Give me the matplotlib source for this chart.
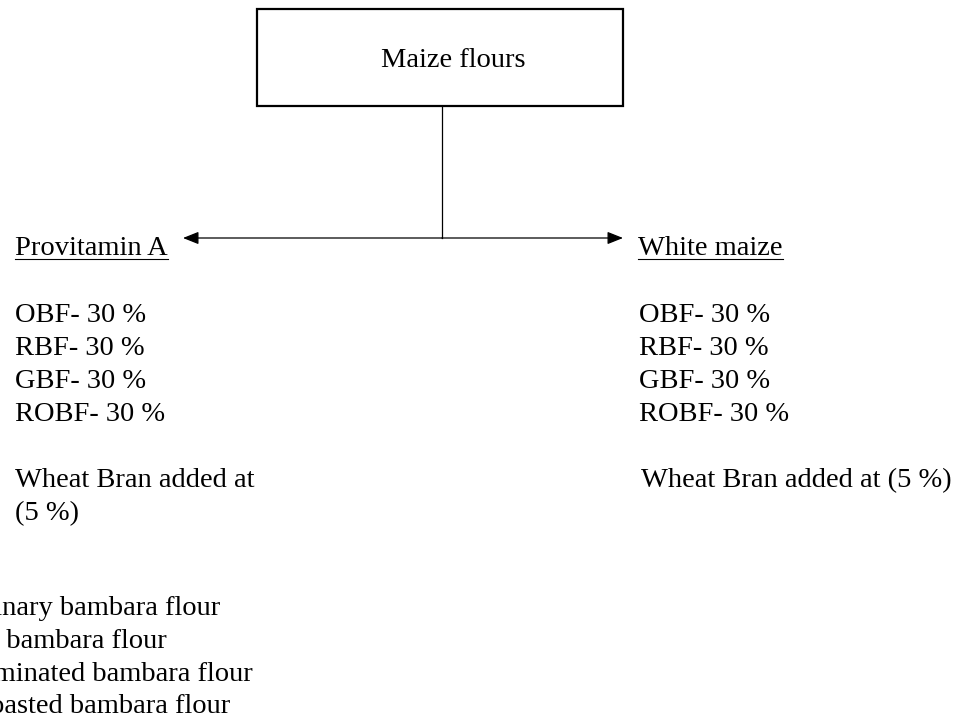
"""Flow chart: maize flour blends with bambara flours and wheat bran."""
import matplotlib
matplotlib.use('Agg')
import matplotlib.pyplot as plt
from matplotlib.patches import Rectangle

plt.rcParams['font.family'] = ['Liberation Serif', 'DejaVu Serif']

# ── content ────────────────────────────────────────────────────────
root_label = 'Maize flours'
branch_labels = ['Provitamin A', 'White maize']
blend_rows = ['OBF- 30 %', 'RBF- 30 %', 'GBF- 30 %', 'ROBF- 30 %']
bran_left = ['Wheat Bran added at', '(5 %)']
bran_right = 'Wheat Bran added at (5 %)'
key_rows = ['Ordinary bambara flour', 'Raw bambara flour',
            'Germinated bambara flour', 'Roasted bambara flour']

FS = 20.5
W, H = 960, 717

# ── canvas in pixel units ──────────────────────────────────────────
fig = plt.figure(figsize=(W / 100, H / 100), dpi=100)
ax = fig.add_axes([0, 0, 1, 1])
ax.set_xlim(0, W)
ax.set_ylim(H, 0)
ax.axis('off')

# root box
ax.add_patch(Rectangle((257, 9), 366, 97, fill=False, lw=1.6, ec='black'))
ax.text(453, 67, root_label, ha='center', va='baseline', fontsize=FS)

# stem + two arrows
ax.plot([442, 442], [106, 238], color='black', lw=0.9)
arrow = dict(arrowstyle='-|>,head_length=0.5,head_width=0.2', mutation_scale=19,
             lw=0.9, color='black', shrinkA=0, shrinkB=0)
ax.annotate('', xy=(183, 238), xytext=(442, 238), arrowprops=arrow)
ax.annotate('', xy=(623, 238), xytext=(442, 238), arrowprops=arrow)

# underlined branch headings
fig.canvas.draw()
renderer = fig.canvas.get_renderer()
inv = ax.transData.inverted()
for x, label in zip([15, 638], branch_labels):
    t = ax.text(x, 255, label, ha='left', va='baseline', fontsize=FS)
    bb = t.get_window_extent(renderer)
    (x0, _), (x1, _) = inv.transform([(bb.x0, bb.y0), (bb.x1, bb.y0)])
    ax.plot([x0, x1], [259, 259], color='black', lw=0.8)

# blend lists
for i, row in enumerate(blend_rows):
    ax.text(15, 322 + 33 * i, row, ha='left', va='baseline', fontsize=FS)
    ax.text(639, 322 + 33 * i, row, ha='left', va='baseline', fontsize=FS)

# wheat bran notes
for i, row in enumerate(bran_left):
    ax.text(15, 487 + 33 * i, row, ha='left', va='baseline', fontsize=FS)
ax.text(641, 487, bran_right, ha='left', va='baseline', fontsize=FS)

# key (runs off the left edge, as in the source figure)
for right, base, row in zip([220, 167, 253, 230], [615, 648, 681, 713], key_rows):
    ax.text(right, base, row, ha='right', va='baseline', fontsize=FS)

fig.savefig('out.png', dpi=100)
